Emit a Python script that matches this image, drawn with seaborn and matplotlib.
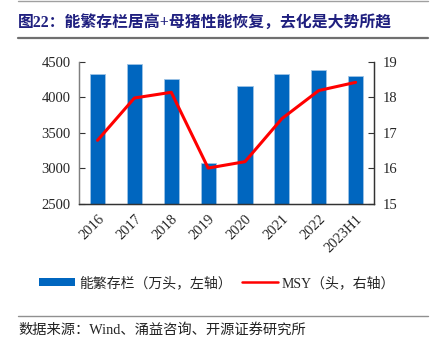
import numpy as np
import pandas as pd
import matplotlib
matplotlib.use("Agg")
import matplotlib.pyplot as plt
from matplotlib.lines import Line2D
from matplotlib.patches import Patch
import seaborn as sns

categories = ["2016", "2017", "2018", "2019", "2020", "2021", "2022", "2023H1"]
sows = [4328, 4472, 4262, 3079, 4164, 4328, 4388, 4300]
msy = [16.79, 17.98, 18.14, 16.01, 16.19, 17.40, 18.19, 18.42]
left_ticks = [2500, 3000, 3500, 4000, 4500]
right_ticks = [15, 16, 17, 18, 19]

title = "图22：能繁存栏居高+母猪性能恢复，去化是大势所趋"
source = "数据来源：Wind、涌益咨询、开源证券研究所"
bar_label = "能繁存栏（万头，左轴）"
line_label = "MSY（头，右轴）"

sns.set_style("white")
FONT = ["Liberation Serif", "Noto Sans CJK SC", "DejaVu Sans"]
plt.rcParams["font.family"] = FONT

df = pd.DataFrame({"cat": categories, "pos": np.arange(len(categories)),
                   "sows": sows, "msy": msy})

fig = plt.figure(figsize=(4.37, 3.40), dpi=100)
ax = fig.add_axes([0.181, 0.40, 0.675, 0.4185])

bar_color = "#0066BF"
sns.barplot(data=df, x="pos", y="sows", ax=ax, color=bar_color, width=0.41,
            saturation=1, edgecolor="#9DC3E6", linewidth=0.6, native_scale=True)
ax.set_ylim(2500, 4500)
ax.set_yticks(left_ticks)
ax.set_xlim(-0.5, len(categories) - 0.5)
ax.set_xticks(np.arange(len(categories)))
ax.set_xticklabels(categories, rotation=45, ha="right", rotation_mode="anchor")
ax.set_xticks(np.arange(len(categories) + 1) - 0.5, minor=True)
ax.tick_params(axis="x", which="major", length=0, pad=6, labelsize=10.5)
ax.tick_params(axis="x", which="minor", length=3.5, direction="in", color="#555555")
ax.tick_params(axis="y", length=4, direction="in", color="#333333", labelsize=10.5, pad=6)
ax.set_xlabel("")
ax.set_ylabel("")

ax2 = ax.twinx()
sns.lineplot(data=df, x="pos", y="msy", ax=ax2, color="#FF0000", linewidth=2.2, sort=False)
ax2.set_ylim(15, 19)
ax2.set_yticks(right_ticks)
ax2.tick_params(axis="y", length=4, direction="in", color="#333333", labelsize=10.5, pad=6)
ax2.set_ylabel("")
ax2.set_xlabel("")
if ax2.get_legend() is not None:
    ax2.get_legend().remove()

for a in (ax, ax2):
    a.spines["top"].set_visible(False)
    a.spines["left"].set_color("#7f7f7f")
    a.spines["right"].set_color("#333333")
    a.spines["bottom"].set_color("#333333")
    for s in a.spines.values():
        s.set_linewidth(0.9)

handles = [Patch(facecolor=bar_color, edgecolor="none"),
           Line2D([0], [0], color="#FF0000", linewidth=1.8)]
fig.legend(handles, [bar_label, line_label], loc="center", bbox_to_anchor=(0.497, 0.168),
           ncol=2, frameon=False, fontsize=10, handlelength=2.6, handleheight=0.5,
           columnspacing=0.7, handletextpad=0.3)

fig.text(0.041, 0.932, title, fontsize=11.4, fontweight="bold", color="#1F1F7F",
         va="center", ha="left", family=FONT)
fig.add_artist(Line2D([0.041, 0.98], [0.998, 0.998], color="#a0a0a0", linewidth=1.0))
fig.add_artist(Line2D([0.041, 0.98], [0.887, 0.887], color="#707070", linewidth=1.6))
fig.add_artist(Line2D([0.041, 0.98], [0.072, 0.072], color="#909090", linewidth=1.0))
fig.text(0.041, 0.03, source, fontsize=10.3, color="#222222", va="center", ha="left", family=FONT)

fig.savefig("out.png", dpi=100)
